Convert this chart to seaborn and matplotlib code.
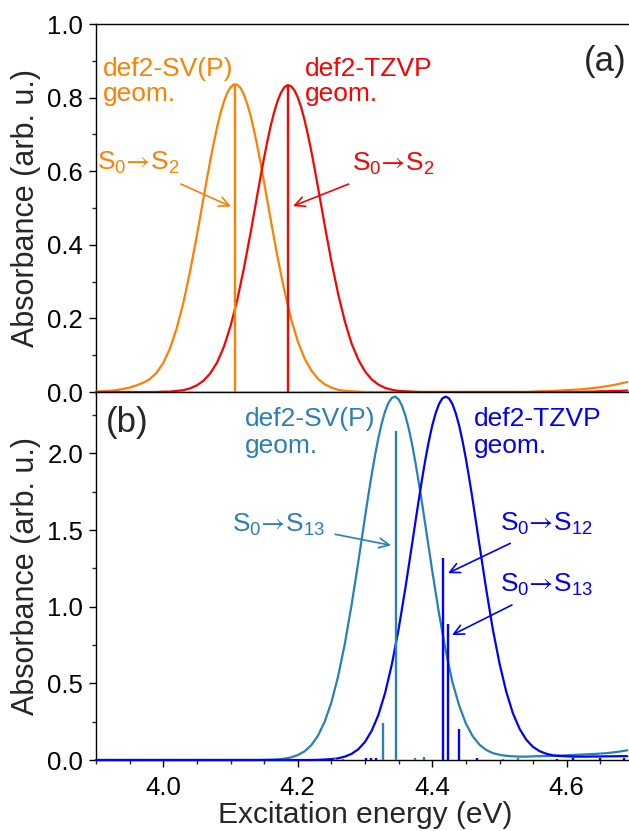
import matplotlib
matplotlib.use("Agg")
import matplotlib.pyplot as plt
from matplotlib.ticker import MultipleLocator
import seaborn as sns

# ---------------- data ----------------
energy = [3.90, 3.91, 3.92, 3.93, 3.94, 3.95, 3.96, 3.97, 3.98, 3.99,
          4.00, 4.01, 4.02, 4.03, 4.04, 4.05, 4.06, 4.07, 4.08, 4.09,
          4.10, 4.11, 4.12, 4.13, 4.14, 4.15, 4.16, 4.17, 4.18, 4.19,
          4.20, 4.21, 4.22, 4.23, 4.24, 4.25, 4.26, 4.27, 4.28, 4.29,
          4.30, 4.31, 4.32, 4.33, 4.34, 4.35, 4.36, 4.37, 4.38, 4.39,
          4.40, 4.41, 4.42, 4.43, 4.44, 4.45, 4.46, 4.47, 4.48, 4.49,
          4.50, 4.51, 4.52, 4.53, 4.54, 4.55, 4.56, 4.57, 4.58, 4.59,
          4.60, 4.61, 4.62, 4.63, 4.64, 4.65, 4.66, 4.67, 4.68, 4.69]

# (a) spectra
abs_a_sv = [0.001, 0.002, 0.003, 0.005, 0.008, 0.012, 0.018, 0.025, 0.035, 0.052,
            0.079, 0.118, 0.173, 0.243, 0.329, 0.425, 0.528, 0.629, 0.719, 0.788,
            0.828, 0.835, 0.808, 0.750, 0.667, 0.569, 0.466, 0.366, 0.276, 0.199,
            0.138, 0.092, 0.059, 0.036, 0.021, 0.012, 0.006, 0.003, 0.002, 0.001,
            0.000, 0.000, 0.000, 0.000, 0.000, 0.000, 0.000, 0.000, 0.000, 0.000,
            0.000, 0.000, 0.000, 0.000, 0.000, 0.000, 0.000, 0.000, 0.000, 0.000,
            0.000, 0.000, 0.000, 0.000, 0.000, 0.001, 0.002, 0.002, 0.003, 0.004,
            0.005, 0.006, 0.007, 0.009, 0.011, 0.013, 0.016, 0.019, 0.023, 0.027]
abs_a_tz = [0.000, 0.000, 0.000, 0.000, 0.000, 0.000, 0.000, 0.000, 0.000, 0.000,
            0.001, 0.001, 0.003, 0.005, 0.010, 0.018, 0.031, 0.051, 0.080, 0.122,
            0.179, 0.250, 0.337, 0.434, 0.537, 0.637, 0.725, 0.791, 0.828, 0.831,
            0.801, 0.740, 0.656, 0.557, 0.454, 0.355, 0.267, 0.192, 0.132, 0.088,
            0.056, 0.034, 0.020, 0.011, 0.006, 0.003, 0.002, 0.001, 0.000, 0.000,
            0.000, 0.000, 0.000, 0.000, 0.000, 0.000, 0.000, 0.000, 0.000, 0.000,
            0.000, 0.000, 0.000, 0.000, 0.000, 0.000, 0.000, 0.000, 0.000, 0.000,
            0.000, 0.000, 0.000, 0.001, 0.001, 0.002, 0.002, 0.003, 0.003, 0.004]

# (b) spectra
abs_b_sv = [0.000, 0.000, 0.000, 0.000, 0.000, 0.000, 0.000, 0.000, 0.000, 0.000,
            0.000, 0.000, 0.000, 0.000, 0.000, 0.000, 0.000, 0.000, 0.000, 0.000,
            0.000, 0.000, 0.000, 0.000, 0.000, 0.001, 0.002, 0.004, 0.009, 0.017,
            0.032, 0.056, 0.096, 0.158, 0.249, 0.376, 0.545, 0.758, 1.010, 1.291,
            1.584, 1.863, 2.102, 2.275, 2.362, 2.352, 2.247, 2.059, 1.809, 1.525,
            1.233, 0.957, 0.712, 0.508, 0.356, 0.238, 0.156, 0.101, 0.066, 0.045,
            0.034, 0.027, 0.024, 0.022, 0.022, 0.024, 0.025, 0.026, 0.027, 0.029,
            0.031, 0.033, 0.035, 0.037, 0.039, 0.042, 0.045, 0.050, 0.056, 0.063]
abs_b_tz = [0.000, 0.000, 0.000, 0.000, 0.000, 0.000, 0.000, 0.000, 0.000, 0.000,
            0.000, 0.000, 0.000, 0.000, 0.000, 0.000, 0.000, 0.000, 0.000, 0.000,
            0.000, 0.000, 0.000, 0.000, 0.000, 0.000, 0.000, 0.000, 0.000, 0.000,
            0.000, 0.000, 0.000, 0.001, 0.003, 0.006, 0.011, 0.022, 0.040, 0.070,
            0.118, 0.191, 0.295, 0.439, 0.625, 0.854, 1.120, 1.408, 1.698, 1.965,
            2.181, 2.321, 2.370, 2.321, 2.181, 1.965, 1.698, 1.408, 1.120, 0.854,
            0.630, 0.446, 0.304, 0.202, 0.131, 0.085, 0.057, 0.040, 0.030, 0.026,
            0.024, 0.022, 0.022, 0.022, 0.023, 0.023, 0.024, 0.024, 0.025, 0.025]

# extra readings around each band maximum (finer sampling of the peak)
peak_a_sv_e = [4.065, 4.075, 4.085, 4.095, 4.105, 4.115, 4.125, 4.135, 4.145, 4.155]
peak_a_sv = [0.580, 0.676, 0.757, 0.812, 0.836, 0.826, 0.782, 0.711, 0.620, 0.518]
peak_a_tz_e = [4.145, 4.155, 4.165, 4.175, 4.185, 4.195, 4.205, 4.215, 4.225]
peak_a_tz = [0.588, 0.683, 0.761, 0.813, 0.834, 0.820, 0.774, 0.700, 0.608]
peak_b_sv_e = [4.305, 4.315, 4.325, 4.335, 4.345, 4.355, 4.365, 4.375, 4.385]
peak_b_sv = [1.727, 1.989, 2.198, 2.330, 2.370, 2.311, 2.162, 1.940, 1.670]
peak_b_tz_e = [4.375, 4.385, 4.395, 4.405, 4.415, 4.425, 4.435, 4.445, 4.455, 4.465]
peak_b_tz = [1.554, 1.836, 2.081, 2.261, 2.358, 2.358, 2.261, 2.081, 1.836, 1.554]

# stick spectra
stick_a_sv_e = [4.107]
stick_a_sv_i = [0.837]
stick_a_tz_e = [4.186]
stick_a_tz_i = [0.834]
stick_b_sv_e = [4.255, 4.268, 4.327, 4.346, 4.375, 4.388, 4.505, 4.527]
stick_b_sv_i = [0.010, 0.008, 0.243, 2.148, 0.010, 0.018, 0.008, 0.010]
stick_b_tz_e = [4.301, 4.309, 4.317, 4.416, 4.424, 4.440, 4.466, 4.585, 4.610, 4.650, 4.685]
stick_b_tz_i = [0.012, 0.010, 0.012, 1.320, 0.885, 0.202, 0.012, 0.008, 0.010, 0.010, 0.012]

y_ticks_a = [0.0, 0.2, 0.4, 0.6, 0.8, 1.0]
y_ticks_b = [0.0, 0.5, 1.0, 1.5, 2.0]
x_ticks = [4.0, 4.2, 4.4, 4.6]


def merged(base, extra_e, extra):
    pts = sorted(zip(energy + extra_e, base + extra))
    return [p[0] for p in pts], [p[1] for p in pts]


# ---------------- style ----------------
sns.set_style("ticks")
plt.rcParams['font.family'] = ['Liberation Sans', 'DejaVu Sans']
plt.rcParams['mathtext.fontset'] = 'stix'
plt.rcParams['mathtext.default'] = 'regular'

C_OR = '#ff8000'
C_RED = '#ff0000'
C_LB = '#2980b9'
C_BL = '#0000ff'

W, H = 629, 831
fig = plt.figure(figsize=(W / 100, H / 100), dpi=100)
ax1 = fig.add_axes([96 / W, 1 - 392 / H, 538 / W, 368 / H])
ax2 = fig.add_axes([96 / W, 1 - 760 / H, 538 / W, 368 / H])

LW = 1.6
curves = [
    (ax1, merged(abs_a_sv, peak_a_sv_e, peak_a_sv), C_OR),
    (ax1, merged(abs_a_tz, peak_a_tz_e, peak_a_tz), C_RED),
    (ax2, merged(abs_b_sv, peak_b_sv_e, peak_b_sv), C_LB),
    (ax2, merged(abs_b_tz, peak_b_tz_e, peak_b_tz), C_BL),
]
for ax, (xs, ys), c in curves:
    sns.lineplot(x=xs, y=ys, ax=ax, color=c, linewidth=LW, zorder=3,
                 clip_on=False, legend=False, sort=False, estimator=None)

ax1.vlines(stick_a_sv_e, 0, stick_a_sv_i, color=C_OR, lw=1.7, zorder=4)
ax1.vlines(stick_a_tz_e, 0, stick_a_tz_i, color=C_RED, lw=1.7, zorder=4)
ax2.vlines(stick_b_sv_e, 0, stick_b_sv_i, color=C_LB, lw=1.7, zorder=4)
ax2.vlines(stick_b_tz_e, 0, stick_b_tz_i, color=C_BL, lw=1.7, zorder=4)

for ax in (ax1, ax2):
    ax.set_xlim(3.9, 4.7)
    ax.set_xticks(x_ticks)
    ax.xaxis.set_minor_locator(MultipleLocator(0.05))
    for s in ax.spines.values():
        s.set_linewidth(1.0)
        s.set_color('black')
    ax.tick_params(which='major', direction='out', length=4.8, width=1.0,
                   labelsize=18.5, top=False, right=False, colors='black')
    ax.tick_params(which='minor', direction='out', length=2.6, width=1.0,
                   top=False, right=False)
    ax.tick_params(axis='y', which='major', pad=4.5)
    ax.tick_params(axis='x', which='major', pad=6.5)
    ax.set_ylabel('Absorbance (arb. u.)', fontsize=22)
    ax.yaxis.set_label_coords(-0.103, 0.5)

ax1.set_ylim(0, 1.0)
ax1.set_yticks(y_ticks_a)
ax1.yaxis.set_minor_locator(MultipleLocator(0.1))
ax1.tick_params(axis='x', labelbottom=False)

ax2.set_ylim(0, 2.4)
ax2.set_yticks(y_ticks_b)
ax2.yaxis.set_minor_locator(MultipleLocator(0.25))
ax2.set_xlabel('Excitation energy (eV)', fontsize=21.5)
ax2.xaxis.set_label_coords(0.5, -0.112)

FS = 19
ARW = r'$\mathrm{→}$'
arrow = dict(arrowstyle='->, head_length=0.45, head_width=0.22', lw=1.2,
             shrinkA=0, shrinkB=0, mutation_scale=16)


def trans(lo, hi):
    return 'S$_{' + lo + '}$' + ARW + 'S$_{' + hi + '}$'


# panel (a)
ax1.text(4.6885, 0.873, '(a)', fontsize=25, ha='right', va='baseline')
ax1.text(3.9108, 0.859, 'def2-SV(P)', color=C_OR, fontsize=FS, va='baseline')
ax1.text(3.9108, 0.792, 'geom.', color=C_OR, fontsize=FS, va='baseline')
ax1.text(4.2112, 0.859, 'def2-TZVP', color=C_RED, fontsize=FS, va='baseline')
ax1.text(4.2112, 0.792, 'geom.', color=C_RED, fontsize=FS, va='baseline')
ax1.text(3.9015, 0.603, trans('0', '2'), color=C_OR, fontsize=FS, va='baseline')
ax1.text(4.2806, 0.601, trans('0', '2'), color=C_RED, fontsize=FS, va='baseline')
ax1.annotate('', xy=(4.1007, 0.504), xytext=(4.0263, 0.565),
             arrowprops=dict(arrow, color=C_OR))
ax1.annotate('', xy=(4.1928, 0.505), xytext=(4.2756, 0.565),
             arrowprops=dict(arrow, color=C_RED))

# panel (b)
ax2.text(3.9152, 2.142, '(b)', fontsize=25, ha='left', va='baseline')
ax2.text(4.1219, 2.179, 'def2-SV(P)', color=C_LB, fontsize=FS, va='baseline')
ax2.text(4.1219, 2.003, 'geom.', color=C_LB, fontsize=FS, va='baseline')
ax2.text(4.4614, 2.179, 'def2-TZVP', color=C_BL, fontsize=FS, va='baseline')
ax2.text(4.4614, 2.003, 'geom.', color=C_BL, fontsize=FS, va='baseline')
ax2.text(4.1022, 1.487, trans('0', '13'), color=C_LB, fontsize=FS, va='baseline')
ax2.text(4.5011, 1.494, trans('0', '12'), color=C_BL, fontsize=FS, va='baseline')
ax2.text(4.5011, 1.098, trans('0', '13'), color=C_BL, fontsize=FS, va='baseline')
ax2.annotate('', xy=(4.3386, 1.400), xytext=(4.2558, 1.472),
             arrowprops=dict(arrow, color=C_LB))
ax2.annotate('', xy=(4.4233, 1.218), xytext=(4.516, 1.413),
             arrowprops=dict(arrow, color=C_BL))
ax2.annotate('', xy=(4.4293, 0.815), xytext=(4.5185, 1.011),
             arrowprops=dict(arrow, color=C_BL))

fig.savefig('out.png', dpi=100)
